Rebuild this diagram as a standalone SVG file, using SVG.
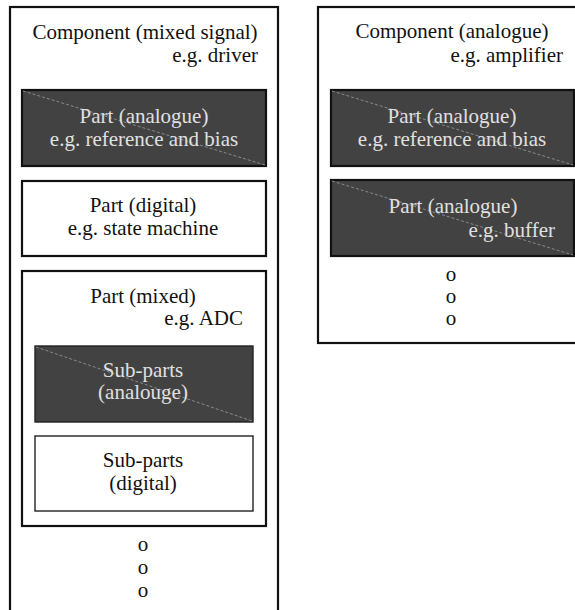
<svg xmlns="http://www.w3.org/2000/svg" width="575" height="610" viewBox="0 0 575 610">
  <style>
    text { font-family: "Liberation Serif", "DejaVu Serif", serif; font-size: 21px; fill: #111; }
    .c { text-anchor: middle; }
    .r { text-anchor: end; }
    .lt { fill: #e0e0e0; }
    .outer { fill: #fff; stroke: #111; stroke-width: 2.2; }
    .box { fill: #fff; stroke: #111; stroke-width: 2.2; }
    .sub { fill: #fff; stroke: #222; stroke-width: 1.4; }
    .dark { fill: #424242; stroke: #111; stroke-width: 2.2; }
    .darksub { fill: #424242; stroke: #222; stroke-width: 1.4; }
    .diag { stroke: #9a9a9a; stroke-width: 0.8; stroke-dasharray: 3 2; }
  </style>
  <rect width="575" height="610" fill="#fff"/>

  <!-- mixed-signal component -->
  <g id="component-mixed">
    <rect class="outer" x="10" y="7" width="268" height="610"/>
    <text class="c" x="145" y="39">Component (mixed signal)</text>
    <text class="r" x="258" y="62">e.g. driver</text>
  </g>

  <g id="part-analogue-1">
    <rect class="dark" x="22" y="90" width="244" height="76"/>
    <line class="diag" x1="23" y1="91" x2="265" y2="165"/>
    <text class="c lt" x="144" y="123">Part (analogue)</text>
    <text class="c lt" x="144" y="146">e.g. reference and bias</text>
  </g>

  <g id="part-digital">
    <rect class="box" x="22" y="181" width="244" height="75"/>
    <text class="c" x="143" y="212">Part (digital)</text>
    <text class="c" x="143" y="235">e.g. state machine</text>
  </g>

  <g id="part-mixed">
    <rect class="box" x="22" y="271" width="244" height="255"/>
    <text class="c" x="143" y="303">Part (mixed)</text>
    <text class="r" x="243" y="325">e.g. ADC</text>
  </g>

  <g id="subparts-analogue">
    <rect class="darksub" x="35" y="346" width="218" height="76"/>
    <line class="diag" x1="36" y1="347" x2="252" y2="421"/>
    <text class="c lt" x="143" y="377">Sub-parts</text>
    <text class="c lt" x="143" y="399">(analouge)</text>
  </g>

  <g id="subparts-digital">
    <rect class="sub" x="35" y="436" width="218" height="75"/>
    <text class="c" x="143" y="467">Sub-parts</text>
    <text class="c" x="143" y="490">(digital)</text>
  </g>

  <g id="more-left">
    <text class="c" x="143" y="551">o</text>
    <text class="c" x="143" y="574">o</text>
    <text class="c" x="143" y="597">o</text>
  </g>

  <!-- analogue component -->
  <g id="component-analogue">
    <rect class="outer" x="318" y="7" width="270" height="336"/>
    <text class="c" x="452" y="38">Component (analogue)</text>
    <text class="r" x="563" y="62">e.g. amplifier</text>
  </g>

  <g id="part-analogue-2">
    <rect class="dark" x="331" y="90" width="243" height="76"/>
    <line class="diag" x1="332" y1="91" x2="573" y2="165"/>
    <text class="c lt" x="452" y="123">Part (analogue)</text>
    <text class="c lt" x="452" y="146">e.g. reference and bias</text>
  </g>

  <g id="part-analogue-3">
    <rect class="dark" x="331" y="180" width="243" height="76"/>
    <line class="diag" x1="332" y1="181" x2="573" y2="255"/>
    <text class="c lt" x="453" y="213">Part (analogue)</text>
    <text class="r lt" x="555" y="237">e.g. buffer</text>
  </g>

  <g id="more-right">
    <text class="c" x="451" y="281">o</text>
    <text class="c" x="451" y="303">o</text>
    <text class="c" x="451" y="325">o</text>
  </g>

  <g id="connectors"/>
</svg>
